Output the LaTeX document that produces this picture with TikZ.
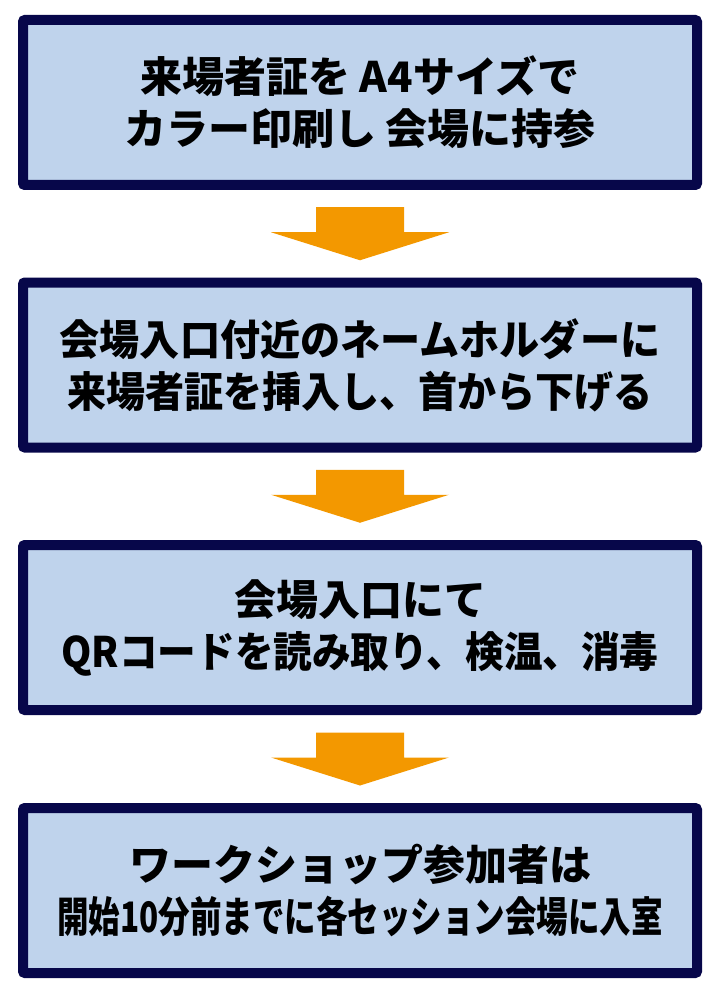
\documentclass[tikz,border=0pt]{standalone}
\usepackage{fontspec}
\setmainfont{Noto Sans CJK JP}
\usetikzlibrary{positioning, calc}
\definecolor{BoxFill}{HTML}{BFD3EC}
\definecolor{BoxEdge}{HTML}{07074A}
\definecolor{FlowOrange}{HTML}{F39800}

\begin{document}
\begin{tikzpicture}[x=0.5pt, y=-0.5pt,
    stepbox/.style={draw=BoxEdge, fill=BoxFill, line width=5pt, rounded corners=1pt,
        minimum width=337pt, minimum height=82.5pt, align=center, inner sep=0pt,
        font=\bfseries\fontsize{21}{26}\selectfont}]
    \useasboundingbox (0,0) rectangle (719,1000);

    % Steps
    \node[stepbox] (entry) at (360,102.5) {来場者証を A4サイズで\\カラー印刷し 会場に持参};
    \node[stepbox] (holder) at (360,365) {\scalebox{0.955}[1]{会場入口付近のネームホルダーに}\\\scalebox{0.93}[1]{来場者証を挿入し、首から下げる}};
    \node[stepbox] (check) at (360,627.5) {会場入口にて\\\scalebox{0.92}[1]{QRコードを読み取り、検温、消毒}};
    \node[stepbox] (session) at (360,890.5) {ワークショップ参加者は\\\scalebox{0.75}[1]{開始10分前までに各セッション会場に入室}};

    % Orange arrows between steps
    \foreach \from/\to in {entry/holder, holder/check, check/session} {
        \path ($(\from.south)!0.5!(\to.north)$) coordinate (mid);
        \fill[FlowOrange] ($(mid)+(-44,-26.5)$) -- ($(mid)+(44,-26.5)$) -- ($(mid)+(44,-1.5)$)
            -- ($(mid)+(89,-1.5)$) -- ($(mid)+(0,26.5)$) -- ($(mid)+(-89,-1.5)$)
            -- ($(mid)+(-44,-1.5)$) -- cycle;
    }
\end{tikzpicture}
\end{document}
